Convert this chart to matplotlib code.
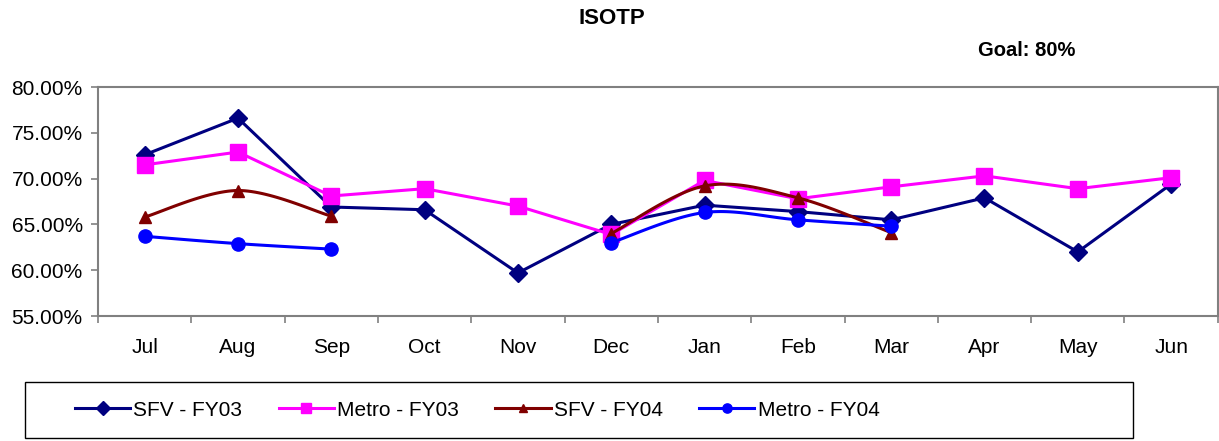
import matplotlib.pyplot as plt
import numpy as np
from matplotlib.patches import Rectangle
from matplotlib.lines import Line2D

plt.rcParams['font.family'] = ['Liberation Sans', 'DejaVu Sans']

months = ['Jul', 'Aug', 'Sep', 'Oct', 'Nov', 'Dec', 'Jan', 'Feb', 'Mar', 'Apr', 'May', 'Jun']

# valores (en %)
sfv_fy03 = [72.6, 76.6, 66.9, 66.6, 59.7, 65.0, 67.1, 66.4, 65.5, 67.9, 62.0, 69.4]
metro_fy03 = [71.5, 72.9, 68.1, 68.9, 67.0, 63.9, 69.8, 67.8, 69.1, 70.3, 68.9, 70.1]
sfv_fy04 = [65.8, 68.7, 65.9, None, None, 64.0, 69.2, 67.9, 64.1, None, None, None]
metro_fy04 = [63.7, 62.9, 62.3, None, None, 63.0, 66.3, 65.5, 64.8, None, None, None]


# curva suavizada tipo Excel (bezier con puntos de control Catmull-Rom)
def smooth_segment(xs, ys, n=30):
    xs = np.asarray(xs, float)
    ys = np.asarray(ys, float)
    if len(xs) < 3:
        return xs, ys
    px = np.concatenate([[xs[0]], xs, [xs[-1]]])
    py = np.concatenate([[ys[0]], ys, [ys[-1]]])
    out_x, out_y = [], []
    t = np.linspace(0, 1, n)
    for i in range(1, len(px) - 2):
        p0 = np.array([px[i], py[i]])
        p3 = np.array([px[i + 1], py[i + 1]])
        c1 = p0 + (np.array([px[i + 1], py[i + 1]]) - np.array([px[i - 1], py[i - 1]])) / 6
        c2 = p3 - (np.array([px[i + 2], py[i + 2]]) - np.array([px[i], py[i]])) / 6
        b = ((1 - t) ** 3)[:, None] * p0 + (3 * (1 - t) ** 2 * t)[:, None] * c1 \
            + (3 * (1 - t) * t ** 2)[:, None] * c2 + (t ** 3)[:, None] * p3
        out_x.extend(b[:, 0])
        out_y.extend(b[:, 1])
    return np.array(out_x), np.array(out_y)


def segments(vals):
    segs, cur = [], []
    for i, v in enumerate(vals):
        if v is None:
            if cur:
                segs.append(cur)
            cur = []
        else:
            cur.append((i + 0.5, v))
    if cur:
        segs.append(cur)
    return segs


fig = plt.figure(figsize=(12.19, 4.41), dpi=100)
ax = fig.add_axes([98 / 1219, 1 - 316 / 441, 1 - 98 / 1219 - 0.001, (316 - 87) / 441])

x = np.arange(len(months)) + 0.5

series = [
    ('SFV - FY03', sfv_fy03, '#000080', 'D', 9.5, False),
    ('Metro - FY03', metro_fy03, '#FF00FF', 's', 11, False),
    ('SFV - FY04', sfv_fy04, '#800000', '^', 9, True),
    ('Metro - FY04', metro_fy04, '#0000FF', 'o', 9.5, True),
]

handles = []
for z, (name, vals, col, mk, ms, smooth) in enumerate(series):
    for seg in segments(vals):
        sx = [p[0] for p in seg]
        sy = [p[1] for p in seg]
        if smooth:
            lx, ly = smooth_segment(sx, sy)
        else:
            lx, ly = sx, sy
        ax.plot(lx, ly, color=col, lw=2.2, zorder=2 + z, solid_capstyle='round')
        ax.plot(sx, sy, linestyle='none', marker=mk, ms=ms, color=col, zorder=2 + z)
    handles.append(Line2D([], [], color=col, lw=2.2, marker=mk, ms=ms * 0.7))

ax.set_xlim(0, 12)
ax.set_ylim(55, 80)
ax.set_yticks([55, 60, 65, 70, 75, 80])
ax.set_yticklabels(['%.2f%%' % v for v in [55, 60, 65, 70, 75, 80]], fontsize=15)
ax.set_xticks(np.arange(0, 13))
ax.set_xticklabels([])
ax.set_xticks(x, minor=True)
ax.set_xticklabels(months, minor=True, fontsize=15)
ax.tick_params(axis='x', which='major', length=5, width=1.2, color='#808080', direction='out')
ax.tick_params(axis='x', which='minor', length=0, pad=16)
ax.tick_params(axis='y', length=5, width=1.2, color='#808080', direction='out', pad=6)
for sp in ax.spines.values():
    sp.set_color('#808080')
    sp.set_linewidth(1.5)

fig.text(612 / 1219, 1 - 18 / 441, 'ISOTP', ha='center', va='center', fontsize=16, fontweight='bold')
fig.text(1027 / 1219, 1 - 50 / 441, 'Goal: 80%', ha='center', va='center', fontsize=14.5, fontweight='bold')

# marco de la leyenda
fig.patches.append(Rectangle((25 / 1219, 1 - 438 / 441), (1133 - 25) / 1219, (438 - 382) / 441,
                             transform=fig.transFigure, fill=False, edgecolor='black', lw=1))
fig.legend(handles, [s[0] for s in series], loc='center left', ncol=4, frameon=False,
           bbox_to_anchor=(75 / 1219, 1 - 410 / 441), fontsize=15, handlelength=2.65,
           handletextpad=0.15, columnspacing=1.75, borderpad=0, borderaxespad=0)

plt.savefig('out.png', dpi=100)
